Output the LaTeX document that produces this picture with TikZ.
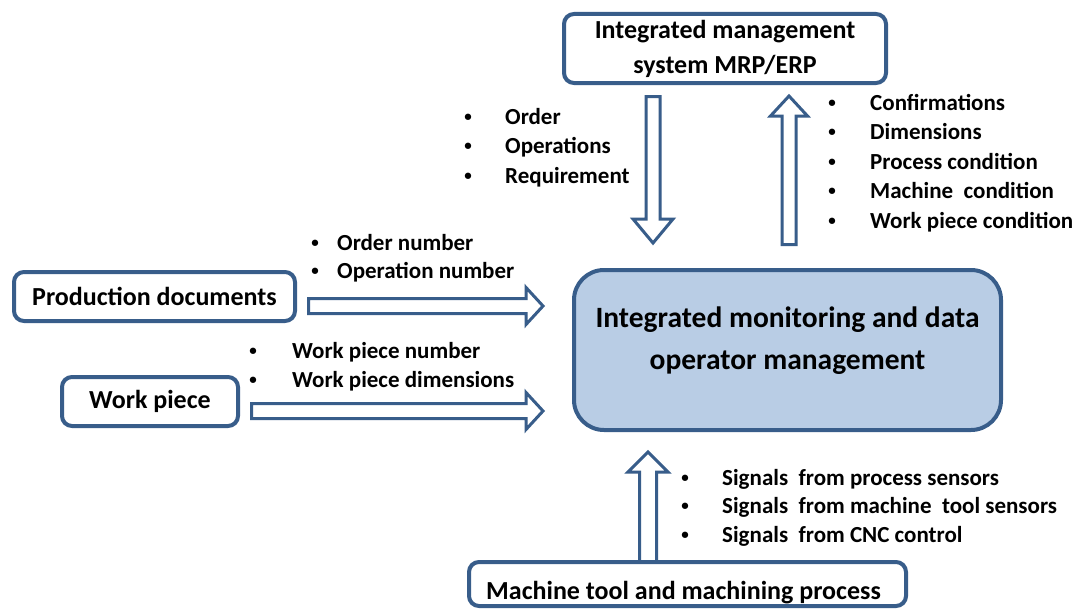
\documentclass[tikz,border=0pt]{standalone}
\usepackage{fontspec}
\setmainfont{Carlito}
\usetikzlibrary{calc}
\definecolor{edge}{HTML}{385D8A}
\definecolor{core}{HTML}{B9CDE5}
\tikzset{
  box/.style={draw=edge, line width=4pt, rounded corners=10pt, fill=white,
    inner sep=0pt, align=center, font=\bfseries\fontsize{26}{35}\selectfont},
  blockarrow/.style={draw=edge, line width=3pt, fill=white, line join=miter},
  lbl/.style={inner sep=0pt, anchor=base west,
    font=\bfseries\fontsize{23}{#1}\selectfont},
  boxtext/.style={inner sep=0pt, align=center, font=\bfseries\fontsize{#1}{42}\selectfont},
}
% small bullet centred on the current point, then a gap before the item text
\newcommand\itm[2]{\makebox[0pt]{\raisebox{2.6pt}{\fontsize{15}{15}\selectfont\textbullet}}\hspace{#1pt}#2}
% horizontal block arrow: tail, tip, half shaft, half head, head length
\newcommand\hblock[5]{%
  \draw[blockarrow] ($(#1)+(0,-#3)$) -- ($(#2)+(-#5,-#3)$) -- ($(#2)+(-#5,-#4)$)
    -- (#2) -- ($(#2)+(-#5,#4)$) -- ($(#2)+(-#5,#3)$) -- ($(#1)+(0,#3)$) -- cycle;}
% vertical block arrow: tail, tip, half shaft, half head, offset of head base from tip
\newcommand\vblock[5]{%
  \draw[blockarrow] ($(#1)+(-#3,0)$) -- ($(#2)+(-#3,#5)$) -- ($(#2)+(-#4,#5)$)
    -- (#2) -- ($(#2)+(#4,#5)$) -- ($(#2)+(#3,#5)$) -- ($(#1)+(#3,0)$) -- cycle;}
\begin{document}
\begin{tikzpicture}[x=1pt, y=-1pt]
  \useasboundingbox (0,0) rectangle (1086,610);
  \fill[white] (0,0) rectangle (1086,610);

  % boxes
  \node[box, minimum width=322pt, minimum height=69pt] (tb) at (725,48.5)
    {Integrated management\\system MRP/ERP};
  \node[box, minimum width=281pt, minimum height=49pt] (pd) at (154.5,296.5)
    {Production documents};
  \node[box, minimum width=176pt, minimum height=49pt] (wp) at (150,401.5)
    {Work piece};
  \node[box, fill=core, rounded corners=30pt, minimum width=427pt, minimum height=160pt]
    (cb) at (787.5,350) {};
  \node[boxtext=29.5] (cbt) at ($(cb.center)+(0,-9)$)
    {Integrated monitoring and data\\operator management};

  % end points of the block arrows
  \coordinate (pdT) at ($(pd.east)+(11.5,9.5)$);
  \coordinate (pdH) at ($(cb.west)+(-29,-44)$);
  \coordinate (wpT) at ($(wp.east)+(11.5,9.5)$);
  \coordinate (wpH) at ($(cb.west)+(-29,61)$);
  \coordinate (dnT) at ($(tb.south)+(-72,11.5)$);
  \coordinate (dnH) at ($(cb.north)+(-134.5,-25)$);
  \coordinate (upT) at ($(cb.north)+(1.5,-23.5)$);
  \coordinate (upH) at ($(tb.south)+(64,11)$);

  \hblock{pdT}{pdH}{7.5}{18.5}{17}
  \hblock{wpT}{wpH}{7.5}{18.5}{17}
  \vblock{dnT}{dnH}{7}{20}{-24}
  \vblock{upT}{upH}{7}{18.5}{20}

  % machine tool box with its arrow
  \coordinate (mtT) at (648,562);
  \coordinate (mtH) at ($(cb.south)+(-139.5,20)$);
  \vblock{mtT}{mtH}{8.5}{20}{20}
  \node[box, minimum width=437pt, minimum height=44pt] (mt) at (687.5,584) {};
  \node[boxtext=26] (mtt) at ($(mt.center)+(-4,9)$) {Machine tool and machining process};

  % bullet lists
  \node[lbl=29.5] (ord) at (468,124) {\begin{tabular}[t]{@{}l@{}}
    \itm{37}{Order}\\ \itm{37}{Operations}\\ \itm{37}{Requirement}\end{tabular}};
  \node[lbl=29.5] (conf) at (832,110) {\begin{tabular}[t]{@{}l@{}}
    \itm{38}{Confirmations}\\ \itm{38}{Dimensions}\\ \itm{38}{Process condition}\\
    \itm{38}{Machine\ \ condition}\\ \itm{38}{Work piece condition}\end{tabular}};
  \node[lbl=28] (onum) at (315,250) {\begin{tabular}[t]{@{}l@{}}
    \itm{22}{Order number}\\ \itm{22}{Operation number}\end{tabular}};
  \node[lbl=29] (wnum) at (253,358) {\begin{tabular}[t]{@{}l@{}}
    \itm{39}{Work piece number}\\ \itm{39}{Work piece dimensions}\end{tabular}};
  \node[lbl=28.5] (sig) at (685,485) {\begin{tabular}[t]{@{}l@{}}
    \itm{37}{Signals\ \ from process sensors}\\ \itm{37}{Signals\ \ from machine\ \ tool sensors}\\
    \itm{37}{Signals\ \ from CNC control}\end{tabular}};
\end{tikzpicture}
\end{document}
